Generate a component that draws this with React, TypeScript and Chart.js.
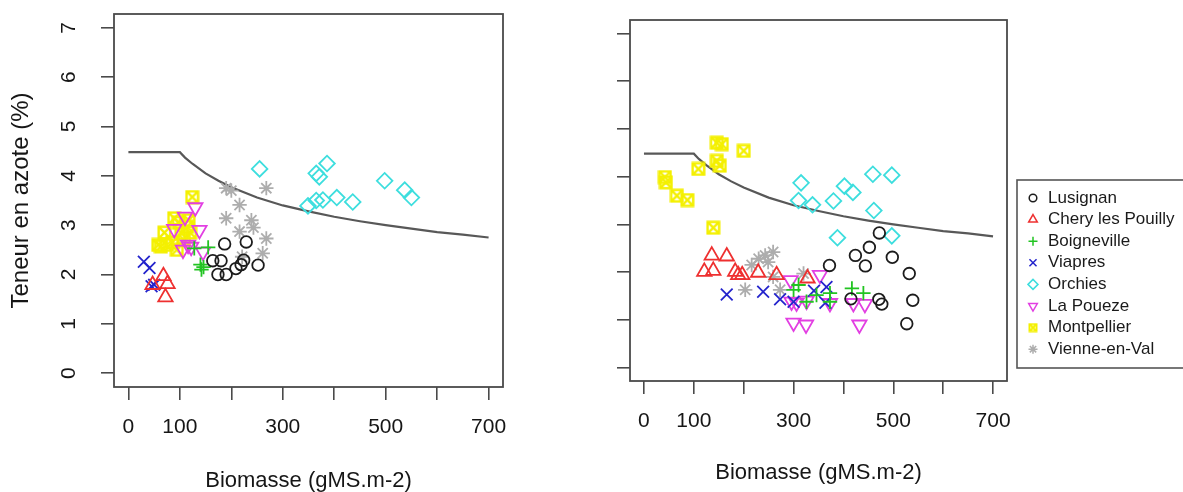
import React, { useEffect, useRef } from 'react';
import { Chart, registerables } from 'chart.js';
import { drawPoint } from 'chart.js/helpers';

Chart.register(...registerables);

const FONT = '"Liberation Sans", Arial, Helvetica, sans-serif';

// ---------- axes ----------
const xTicks = [0, 100, 200, 300, 400, 500, 600, 700];
const xTickLabels = ['0', '100', '', '300', '', '500', '', '700'];
const yTicks = [0, 1, 2, 3, 4, 5, 6, 7];
const yTickLabels = ['0', '1', '2', '3', '4', '5', '6', '7'];

// ---------- sites ----------
const siteNames = ['Lusignan', 'Chery les Pouilly', 'Boigneville', 'Viapres', 'Orchies', 'La Poueze', 'Montpellier', 'Vienne-en-Val'];
const siteColors = ['#1c1c1c', '#ee3030', '#22c422', '#2424cc', '#3ddede', '#e23fe2', '#f4f000', '#adadad'];

// ---------- critical dilution curve ----------
const curveX = [0, 100, 110, 125, 150, 175, 200, 250, 300, 350, 400, 450, 500, 550, 600, 650, 700];
const curveY = [4.48, 4.48, 4.37, 4.24, 4.05, 3.9, 3.77, 3.56, 3.4, 3.28, 3.17, 3.08, 3.0, 2.93, 2.86, 2.81, 2.75];

// ---------- left panel data ----------
const lusignanA_x = [187, 229, 164, 180, 174, 190, 209, 219, 224, 252];
const lusignanA_y = [2.62, 2.66, 2.28, 2.28, 2.0, 2.0, 2.12, 2.2, 2.29, 2.19];
const cheryA_x = [68, 76, 72, 47];
const cheryA_y = [1.97, 1.81, 1.54, 1.79];
const boignevilleA_x = [128, 140, 142, 155, 146];
const boignevilleA_y = [2.53, 2.2, 2.1, 2.55, 2.15];
const viapresA_x = [30, 41, 50, 45];
const viapresA_y = [2.26, 2.13, 1.79, 1.76];
const orchiesA_x = [255, 386, 365, 371, 498, 537, 550, 349, 365, 378, 405, 436];
const orchiesA_y = [4.14, 4.25, 4.05, 3.98, 3.9, 3.71, 3.56, 3.39, 3.5, 3.51, 3.56, 3.47];
const poueze_A_x = [130, 89, 110, 138, 106, 122, 145, 116];
const poueze_A_y = [3.36, 2.92, 3.17, 2.9, 2.5, 2.56, 2.46, 2.6];
const montpellierA_x = [124, 89, 58, 63, 75, 103, 114, 117, 94, 70, 85, 108, 120, 98];
const montpellierA_y = [3.57, 3.14, 2.6, 2.57, 2.6, 2.84, 2.97, 3.1, 2.5, 2.85, 2.65, 2.7, 2.85, 3.05];
const vienneA_x = [190, 268, 216, 190, 239, 216, 268, 261, 221, 200, 243];
const vienneA_y = [3.75, 3.75, 3.41, 3.14, 3.1, 2.87, 2.73, 2.43, 2.36, 3.7, 2.95];

// ---------- right panel data ----------
const lusignanB_x = [472, 452, 424, 444, 372, 498, 532, 539, 527, 471, 477, 415];
const lusignanB_y = [2.82, 2.52, 2.35, 2.13, 2.14, 2.31, 1.97, 1.41, 0.92, 1.43, 1.33, 1.44];
const cheryB_x = [136, 166, 121, 139, 183, 189, 197, 229, 266, 328];
const cheryB_y = [2.35, 2.33, 2.01, 2.03, 2.01, 1.94, 1.94, 1.99, 1.94, 1.87];
const boignevilleB_x = [310, 300, 326, 346, 373, 417, 440, 373];
const boignevilleB_y = [1.73, 1.63, 1.38, 1.52, 1.56, 1.66, 1.56, 1.38];
const viapresB_x = [166, 239, 273, 300, 341, 366, 364];
const viapresB_y = [1.53, 1.59, 1.43, 1.38, 1.61, 1.69, 1.36];
const orchiesB_x = [315, 310, 338, 380, 402, 419, 459, 497, 461, 497, 388];
const orchiesB_y = [3.87, 3.5, 3.41, 3.49, 3.8, 3.67, 4.05, 4.03, 3.29, 2.76, 2.72];
const pouezeB_x = [294, 353, 296, 306, 326, 373, 420, 443, 300, 325, 432];
const pouezeB_y = [1.83, 1.94, 1.38, 1.36, 1.4, 1.35, 1.35, 1.33, 0.94, 0.9, 0.9];
const montpellierB_x = [146, 156, 200, 146, 152, 109, 42, 44, 66, 87, 139];
const montpellierB_y = [4.71, 4.68, 4.54, 4.33, 4.23, 4.16, 3.99, 3.88, 3.6, 3.51, 2.93];
const vienneB_x = [243, 259, 249, 216, 203, 259, 273, 320, 230];
const vienneB_y = [2.35, 2.42, 2.21, 2.15, 1.63, 1.9, 1.63, 1.97, 2.28];

const panelA = [
  [lusignanA_x, lusignanA_y], [cheryA_x, cheryA_y], [boignevilleA_x, boignevilleA_y], [viapresA_x, viapresA_y],
  [orchiesA_x, orchiesA_y], [poueze_A_x, poueze_A_y], [montpellierA_x, montpellierA_y], [vienneA_x, vienneA_y],
];
const panelB = [
  [lusignanB_x, lusignanB_y], [cheryB_x, cheryB_y], [boignevilleB_x, boignevilleB_y], [viapresB_x, viapresB_y],
  [orchiesB_x, orchiesB_y], [pouezeB_x, pouezeB_y], [montpellierB_x, montpellierB_y], [vienneB_x, vienneB_y],
];

function boxCross(size: number, color: string, lw: number) {
  const c = document.createElement('canvas');
  c.width = size;
  c.height = size;
  const g = c.getContext('2d')!;
  g.strokeStyle = color;
  g.lineWidth = lw;
  const m = lw / 2 + 0.5;
  g.strokeRect(m, m, size - 2 * m, size - 2 * m);
  g.beginPath();
  g.moveTo(m, m); g.lineTo(size - m, size - m);
  g.moveTo(size - m, m); g.lineTo(m, size - m);
  g.stroke();
  return c;
}

function markerStyles() {
  return [
    { style: 'circle', rot: 0, r: 5.8, lr: 3.8 },
    { style: 'triangle', rot: 0, r: 8.3, lr: 5 },
    { style: 'cross', rot: 0, r: 7.2, lr: 4.5 },
    { style: 'crossRot', rot: 0, r: 8.3, lr: 5 },
    { style: 'rectRot', rot: 0, r: 7.8, lr: 5 },
    { style: 'triangle', rot: 180, r: 8.3, lr: 5 },
    { style: boxCross(15, siteColors[6], 2.4), rot: 0, r: 7, lr: 4, legendStyle: boxCross(10, siteColors[6], 2) },
    { style: 'star', rot: 0, r: 7.2, lr: 4.5 },
  ];
}

function buildDatasets(panel: number[][][]) {
  const ms = markerStyles();
  const ds: any[] = panel.map(([xs, ys], i) => ({
    label: siteNames[i],
    data: xs.map((x, k) => ({ x, y: ys[k] })),
    pointStyle: ms[i].style,
    pointRotation: ms[i].rot,
    pointRadius: ms[i].r,
    pointBorderColor: siteColors[i],
    pointBackgroundColor: 'rgba(0,0,0,0)',
    pointBorderWidth: 1.8,
    showLine: false,
    legendStyle: (ms[i] as any).legendStyle || ms[i].style,
    legendRadius: ms[i].lr,
    legendRotation: ms[i].rot,
  }));
  ds.push({
    label: 'curve',
    isCurve: true,
    data: curveX.map((x, k) => ({ x, y: curveY[k] })),
    showLine: true,
    borderColor: '#585858',
    borderWidth: 2.2,
    pointRadius: 0,
    fill: false,
    tension: 0,
  });
  return ds;
}

const framePlugin = {
  id: 'frame',
  afterDraw(chart: any) {
    const { ctx, chartArea: a } = chart;
    ctx.save();
    ctx.strokeStyle = '#4a4a4a';
    ctx.lineWidth = 1.8;
    ctx.strokeRect(a.left, a.top, a.right - a.left, a.bottom - a.top);
    ctx.restore();
  },
};

const boxLegendPlugin = {
  id: 'boxLegend',
  afterDraw(chart: any, _args: any, opts: any) {
    if (!opts || !opts.show) return;
    const ctx = chart.ctx;
    ctx.save();
    ctx.strokeStyle = '#555';
    ctx.lineWidth = 1.6;
    ctx.strokeRect(opts.left, opts.top, opts.width, opts.bottom - opts.top);
    ctx.font = `${opts.fontSize}px ${FONT}`;
    ctx.textBaseline = 'middle';
    ctx.textAlign = 'left';
    let row = 0;
    chart.data.datasets.forEach((ds: any) => {
      if (ds.isCurve) return;
      const y = opts.y0 + row * opts.step;
      ctx.strokeStyle = ds.pointBorderColor;
      ctx.fillStyle = 'rgba(0,0,0,0)';
      ctx.lineWidth = 1.5;
      drawPoint(ctx, { pointStyle: ds.legendStyle, rotation: ds.legendRotation, radius: ds.legendRadius, borderWidth: 1.5 } as any, opts.markerX, y);
      ctx.fillStyle = '#1a1a1a';
      ctx.fillText(ds.label, opts.textX, y);
      row++;
    });
    ctx.restore();
  },
};

type PanelCfg = {
  top: number; right: number; yWidth: number; xHeight: number; yLabels: boolean; xTitlePad: number; legend: any;
};

function makeOptions(p: PanelCfg): any {
  return {
    animation: false,
    responsive: false,
    events: [],
    layout: { padding: { left: 0, top: p.top, right: p.right, bottom: 0 } },
    plugins: {
      legend: { display: false },
      tooltip: { enabled: false },
      boxLegend: p.legend,
    },
    scales: {
      x: {
        type: 'linear',
        min: -28,
        max: 728,
        afterBuildTicks: (s: any) => { s.ticks = xTicks.map((v) => ({ value: v })); },
        afterFit: (s: any) => { s.height = p.xHeight; s.paddingLeft = 0; s.paddingRight = 0; },
        border: { display: false },
        grid: { display: true, drawOnChartArea: false, drawTicks: true, tickLength: 13, color: '#4a4a4a', lineWidth: 1.6 },
        ticks: {
          autoSkip: false, minRotation: 0, maxRotation: 0, padding: 15, color: '#161616',
          font: { family: FONT, size: 21 },
          callback: (_v: any, i: number) => xTickLabels[i],
        },
        title: {
          display: true, text: 'Biomasse (gMS.m-2)', color: '#161616',
          font: { family: FONT, size: 22, lineHeight: 1 }, padding: { top: 0, bottom: p.xTitlePad },
        },
      },
      y: {
        type: 'linear',
        min: -0.28,
        max: 7.28,
        afterBuildTicks: (s: any) => { s.ticks = yTicks.map((v) => ({ value: v })); },
        afterFit: (s: any) => { s.width = p.yWidth; s.paddingTop = 0; s.paddingBottom = 0; },
        border: { display: false },
        grid: { display: true, drawOnChartArea: false, drawTicks: true, tickLength: 13, color: '#4a4a4a', lineWidth: 1.6 },
        ticks: {
          display: p.yLabels, autoSkip: false, minRotation: 90, maxRotation: 90, crossAlign: 'center', padding: 26,
          color: '#161616', font: { family: FONT, size: 21 },
          callback: (_v: any, i: number) => yTickLabels[i],
        },
        title: {
          display: p.yLabels, text: 'Teneur en azote (%)', color: '#161616',
          font: { family: FONT, size: 24, lineHeight: 1 }, padding: { top: 9, bottom: 0 },
        },
      },
    },
  };
}

function Panel({ panel, cfg, left, width }: { panel: number[][][]; cfg: PanelCfg; left: number; width: number }) {
  const ref = useRef<HTMLCanvasElement>(null);
  useEffect(() => {
    const chart = new Chart(ref.current as HTMLCanvasElement, {
      type: 'scatter',
      data: { datasets: buildDatasets(panel) },
      options: makeOptions(cfg),
      plugins: [framePlugin, boxLegendPlugin],
    } as any);
    return () => chart.destroy();
  }, []);
  return (
    <canvas
      ref={ref}
      width={width}
      height={492}
      style={{ position: 'absolute', left, top: 0, width, height: 492 }}
    />
  );
}

export default function App() {
  const leftCfg: PanelCfg = { top: 14, right: 77, yWidth: 114, xHeight: 105, yLabels: true, xTitlePad: 0, legend: { show: false } };
  const rightCfg: PanelCfg = {
    top: 20, right: 176, yWidth: 50, xHeight: 111, yLabels: false, xTitlePad: 8,
    legend: { show: true, left: 437, top: 180, bottom: 368, width: 200, y0: 198, step: 21.6, markerX: 453, textX: 468, fontSize: 17 },
  };
  return (
    <div style={{ position: 'absolute', left: 0, top: 0, width: 1183, height: 492, overflow: 'hidden', background: '#fff' }}>
      <Panel panel={panelA} cfg={leftCfg} left={0} width={580} />
      <Panel panel={panelB} cfg={rightCfg} left={580} width={603} />
    </div>
  );
}
